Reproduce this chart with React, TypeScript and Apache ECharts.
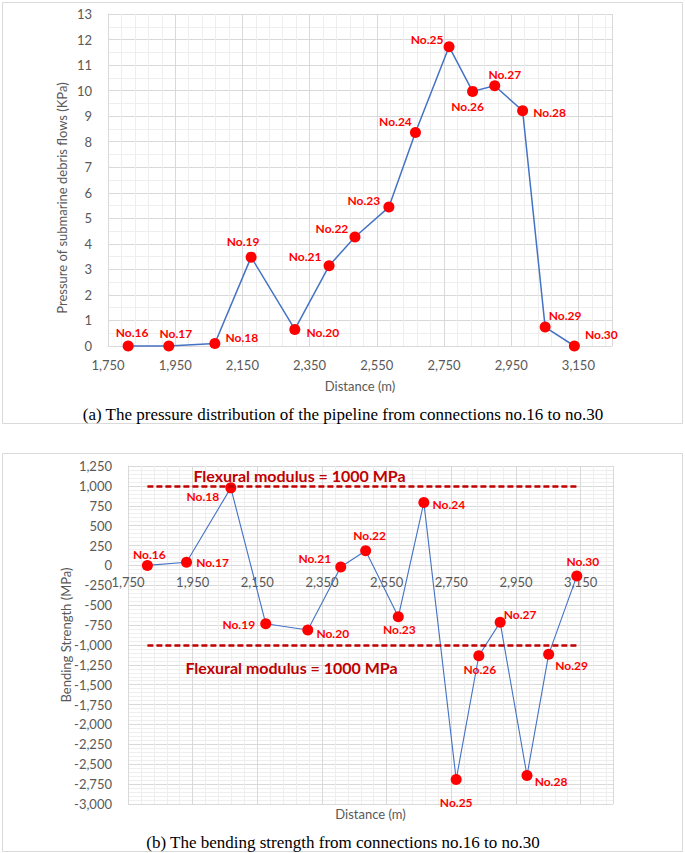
import React, { useEffect, useRef } from 'react';
import * as echarts from 'echarts';

// connection positions along the pipeline (m)
const distances = [1810, 1931, 2068, 2176, 2306, 2408, 2485, 2586, 2665, 2765, 2835, 2901, 2984, 3051, 3138];
const connections = ['No.16', 'No.17', 'No.18', 'No.19', 'No.20', 'No.21', 'No.22', 'No.23', 'No.24', 'No.25', 'No.26', 'No.27', 'No.28', 'No.29', 'No.30'];
// (a) pressure of submarine debris flows, KPa
const pressure = [0, 0, 0.1, 3.48, 0.65, 3.14, 4.27, 5.44, 8.36, 11.72, 9.97, 10.19, 9.21, 0.74, 0];
// (b) bending strength, MPa
const bending = [0, 40, 975, -733, -813, -21, 185, -646, 791, -2693, -1136, -716, -2643, -1118, -134];
const flexuralModulus = 1000;

// axis ranges
const xRange = [1750, 3250];
const yRangeA = [0, 13];
const yRangeB = [-3000, 1250];

const captionA = '(a) The pressure distribution of the pipeline from connections no.16 to no.30';
const captionB = '(b) The bending strength from connections no.16 to no.30';

// where each point label sits relative to its marker (px)
const labelOffsetA = [[4, -14], [7, -13], [27, -6], [-8, -16], [28, 3], [-24, -9], [-23, -8], [-25, -7], [-20, -11], [-22, -7], [-5, 15], [10, -11], [27, 2], [20, -12], [27, -12]];
const labelOffsetB = [[2, -11], [26, 0], [-28, 9], [-27, 1], [25, 3], [-26, -9], [4, -15], [1, 13], [25, 2], [0, 23], [1, 14], [20, -8], [24, 6], [23, 11], [6, -15]];

const FONT = 'Lato';
const GREY = '#595959';
const gridA = { left: 108, top: 14, width: 504, height: 332 };
const gridB = { left: 128, top: 466, width: 485, height: 338 };

const fmt = (v: number) => v.toLocaleString('en-US');
const tickText = { color: GREY, fontFamily: FONT, fontSize: 13 };
const nameText = { color: GREY, fontFamily: FONT, fontSize: 13 };
const majorLine = { show: true, lineStyle: { color: '#d9d9d9', width: 1 } };
const minorLine = { show: true, lineStyle: { color: '#eeeeee', width: 1 } };
const pointLabel = { show: true, position: 'inside', formatter: '{b}', color: '#ff0000', fontFamily: FONT, fontWeight: 'bold', fontSize: 12, textBorderWidth: 0 };

const xAxisBase = {
  type: 'value', min: xRange[0], max: xRange[1], interval: 200,
  axisTick: { show: false },
  splitLine: majorLine,
  minorTick: { show: false, splitNumber: 5 },
  minorSplitLine: minorLine,
};

const App: React.FC = () => {
  const chartRef = useRef<HTMLDivElement | null>(null);

  useEffect(() => {
    const chart = echarts.init(chartRef.current!, null, { renderer: 'svg' });

    // (b) has its distance axis running along the zero line
    const zeroShiftB = -gridB.height * (0 - yRangeB[0]) / (yRangeB[1] - yRangeB[0]);

    const option: any = {
      animation: false,
      backgroundColor: '#ffffff',
      textStyle: { fontFamily: FONT },
      grid: [gridA, gridB],
      xAxis: [
        {
          ...xAxisBase, gridIndex: 0,
          axisLine: { show: true, onZero: false, lineStyle: { color: '#d9d9d9' } },
          axisLabel: { ...tickText, margin: 12, formatter: fmt, showMaxLabel: false },
          name: 'Distance (m)', nameLocation: 'middle', nameGap: 33, nameMoveOverlap: false, nameTextStyle: nameText,
        },
        {
          ...xAxisBase, gridIndex: 1, position: 'bottom', offset: zeroShiftB,
          axisLine: { show: true, onZero: false, lineStyle: { color: '#d9d9d9' } },
          axisLabel: { ...tickText, margin: 10, formatter: fmt, showMaxLabel: false },
        },
      ],
      yAxis: [
        {
          type: 'value', gridIndex: 0, min: yRangeA[0], max: yRangeA[1], interval: 1,
          axisLine: { show: true, onZero: false, lineStyle: { color: '#d9d9d9' } },
          axisTick: { show: false },
          axisLabel: { ...tickText, margin: 16 },
          splitLine: majorLine,
          minorTick: { show: false, splitNumber: 2 },
          minorSplitLine: minorLine,
          name: 'Pressure of submarine debris flows (KPa)', nameLocation: 'middle', nameGap: 40, nameMoveOverlap: false,
          nameTextStyle: { ...nameText, padding: [0, 36, 0, 0] },
        },
        {
          type: 'value', gridIndex: 1, min: yRangeB[0], max: yRangeB[1], interval: 250,
          axisLine: { show: true, onZero: false, lineStyle: { color: '#d9d9d9' } },
          axisTick: { show: false },
          axisLabel: { ...tickText, margin: 16, formatter: fmt },
          splitLine: majorLine,
          minorTick: { show: false, splitNumber: 5 },
          minorSplitLine: minorLine,
          name: 'Bending Strength (MPa)', nameLocation: 'middle', nameGap: 56, nameMoveOverlap: false, nameTextStyle: nameText,
        },
      ],
      series: [
        {
          type: 'line', xAxisIndex: 0, yAxisIndex: 0,
          data: distances.map((d, i) => ({ name: connections[i], value: [d, pressure[i]], label: { offset: labelOffsetA[i] } })),
          symbol: 'circle', symbolSize: 11,
          itemStyle: { color: '#ff0000' },
          lineStyle: { color: '#4472c4', width: 1.5 },
          label: pointLabel,
          emphasis: { disabled: true },
          clip: false,
        },
        {
          type: 'line', xAxisIndex: 1, yAxisIndex: 1,
          data: distances.map((d, i) => ({ name: connections[i], value: [d, bending[i]], label: { offset: labelOffsetB[i] } })),
          symbol: 'circle', symbolSize: 11,
          itemStyle: { color: '#ff0000' },
          lineStyle: { color: '#4472c4', width: 1.1 },
          label: pointLabel,
          emphasis: { disabled: true },
          clip: false,
          markLine: {
            silent: true,
            symbol: ['none', 'none'],
            lineStyle: { color: '#c00000', width: 2.5, type: [6, 3] },
            label: {
              show: true, formatter: `Flexural modulus = ${flexuralModulus} MPa`,
              color: '#c00000', fontFamily: FONT, fontWeight: 'bold', fontSize: 16,
            },
            emphasis: { disabled: true },
            data: [
              [
                { coord: [distances[0], flexuralModulus], label: { position: 'insideStartTop', distance: [46, 2] } },
                { coord: [distances[distances.length - 1], flexuralModulus] },
              ],
              [
                { coord: [distances[0], -flexuralModulus], label: { position: 'insideStartBottom', distance: [38, 15] } },
                { coord: [distances[distances.length - 1], -flexuralModulus] },
              ],
            ],
          },
        },
      ],
      graphic: [
        { type: 'rect', silent: true, shape: { x: 2.5, y: 2.5, width: 680, height: 421 }, style: { fill: 'none', stroke: '#d9d9d9', lineWidth: 1 } },
        { type: 'rect', silent: true, shape: { x: 2.5, y: 453.5, width: 680, height: 398 }, style: { fill: 'none', stroke: '#d9d9d9', lineWidth: 1 } },
        {
          type: 'text', silent: true, x: gridB.left + gridB.width / 2, y: 814,
          style: { text: 'Distance (m)', fill: GREY, fontFamily: FONT, fontSize: 13, align: 'center', verticalAlign: 'middle' },
        },
        {
          type: 'text', silent: true, x: 343, y: 414,
          style: { text: captionA, fill: '#000', fontFamily: '"Liberation Serif"', fontSize: 17, align: 'center', verticalAlign: 'middle' },
        },
        {
          type: 'text', silent: true, x: 343, y: 842,
          style: { text: captionB, fill: '#000', fontFamily: '"Liberation Serif"', fontSize: 17, align: 'center', verticalAlign: 'middle' },
        },
      ],
    };

    chart.setOption(option);

    return () => {
      chart.dispose();
    };
  }, []);

  return <div ref={chartRef} style={{ position: 'absolute', left: 0, top: 0, width: 685, height: 853, background: '#fff' }} />;
};

export default App;
